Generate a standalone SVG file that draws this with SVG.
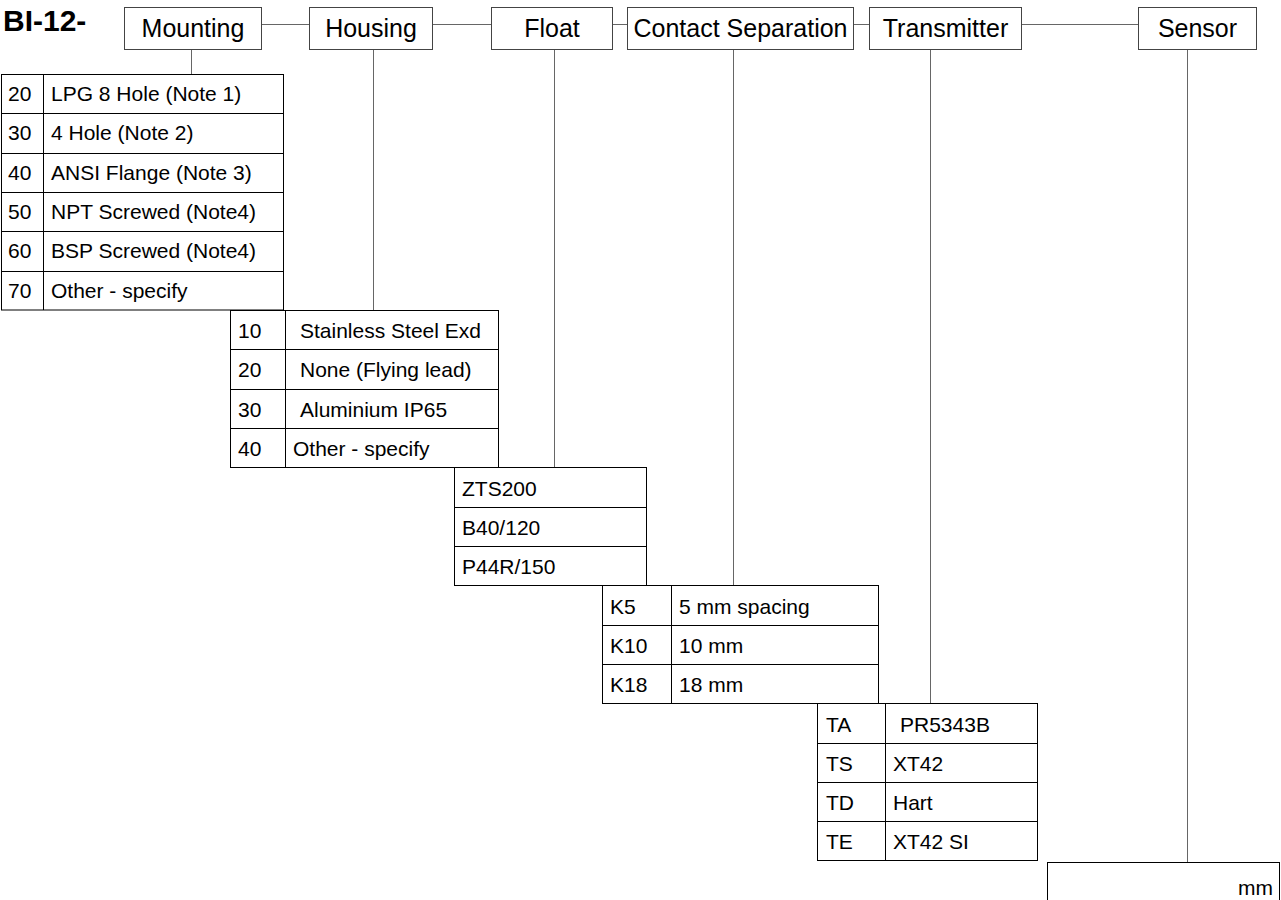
<svg xmlns="http://www.w3.org/2000/svg" width="1281" height="900" viewBox="0 0 1281 900">
<style>
.hb{fill:#fff;stroke:#444;stroke-width:1}
.ht{font-family:"Liberation Sans",Arial,sans-serif;font-size:25px;fill:#000;text-anchor:middle}
.tb{fill:#fff;stroke:#000;stroke-width:1}
.ln{stroke:#000;stroke-width:1;fill:none}
.t{font-family:"Liberation Sans",Arial,sans-serif;font-size:21px;fill:#000}
.cn{stroke:#666;stroke-width:1;fill:none}
.title{font-family:"Liberation Sans",Arial,sans-serif;font-size:30px;font-weight:bold;fill:#000}
</style>
<rect width="1281" height="900" fill="#fff"/>
<text class="title" x="3" y="31">BI-12-</text>
<g id="connectors">
<path class="cn" d="M261.5 24.5H309.5M432.5 24.5H491.5M612.5 24.5H627.5M853.5 24.5H869.5M1021.5 24.5H1138.5"/>
<path class="cn" d="M191.5 49.5V74M373.5 49.5V310M554.5 49.5V467M733.5 49.5V585M930.5 49.5V703M1187.5 49.5V862"/>
</g>
<g id="hdr-mounting"><rect class="hb" x="124.5" y="7.5" width="137" height="42"/><text class="ht" x="193" y="37">Mounting</text></g>
<g id="hdr-housing"><rect class="hb" x="309.5" y="7.5" width="123" height="42"/><text class="ht" x="371" y="37">Housing</text></g>
<g id="hdr-float"><rect class="hb" x="491.5" y="7.5" width="121" height="42"/><text class="ht" x="552" y="37">Float</text></g>
<g id="hdr-contact"><rect class="hb" x="627.5" y="7.5" width="226" height="42"/><text class="ht" x="740.5" y="37">Contact Separation</text></g>
<g id="hdr-transmitter"><rect class="hb" x="869.5" y="7.5" width="152" height="42"/><text class="ht" x="945.5" y="37">Transmitter</text></g>
<g id="hdr-sensor"><rect class="hb" x="1138.5" y="7.5" width="118" height="42"/><text class="ht" x="1197.5" y="37">Sensor</text></g>
<g id="tbl-mounting">
<rect class="tb" x="1.5" y="74.5" width="282" height="235.5"/>
<path class="ln" d="M43.5 74.5V310M1.5 113.5H283.5M1.5 153.5H283.5M1.5 192.5H283.5M1.5 231.5H283.5M1.5 271.5H283.5"/>
<text class="t" x="8" y="101">20</text><text class="t" x="51" y="101">LPG 8 Hole (Note 1)</text>
<text class="t" x="8" y="140">30</text><text class="t" x="51" y="140">4 Hole (Note 2)</text>
<text class="t" x="8" y="180">40</text><text class="t" x="51" y="180">ANSI Flange (Note 3)</text>
<text class="t" x="8" y="219">50</text><text class="t" x="51" y="219">NPT Screwed (Note4)</text>
<text class="t" x="8" y="258">60</text><text class="t" x="51" y="258">BSP Screwed (Note4)</text>
<text class="t" x="8" y="298">70</text><text class="t" x="51" y="298">Other - specify</text>
</g>
<g id="tbl-housing">
<rect class="tb" x="230.5" y="310.5" width="268" height="157"/>
<path class="ln" d="M285.5 310.5V467.5M230.5 349.5H498.5M230.5 389.5H498.5M230.5 428.5H498.5"/>
<text class="t" x="238" y="338">10</text><text class="t" x="300" y="338">Stainless Steel Exd</text>
<text class="t" x="238" y="377">20</text><text class="t" x="300" y="377">None (Flying lead)</text>
<text class="t" x="238" y="417">30</text><text class="t" x="300" y="417">Aluminium IP65</text>
<text class="t" x="238" y="456">40</text><text class="t" x="293" y="456">Other - specify</text>
</g>
<g id="tbl-float">
<rect class="tb" x="454.5" y="467.5" width="192" height="118"/>
<path class="ln" d="M454.5 507.5H646.5M454.5 546.5H646.5"/>
<text class="t" x="462" y="496">ZTS200</text>
<text class="t" x="462" y="535">B40/120</text>
<text class="t" x="462" y="574">P44R/150</text>
</g>
<g id="tbl-contact">
<rect class="tb" x="602.5" y="585.5" width="276" height="118"/>
<path class="ln" d="M671.5 585.5V703.5M602.5 625.5H878.5M602.5 664.5H878.5"/>
<text class="t" x="610" y="614">K5</text><text class="t" x="679" y="614">5 mm spacing</text>
<text class="t" x="610" y="653">K10</text><text class="t" x="679" y="653">10 mm</text>
<text class="t" x="610" y="692">K18</text><text class="t" x="679" y="692">18 mm</text>
</g>
<g id="tbl-transmitter">
<rect class="tb" x="817.5" y="703.5" width="220" height="157"/>
<path class="ln" d="M885.5 703.5V860.5M817.5 743.5H1037.5M817.5 782.5H1037.5M817.5 821.5H1037.5"/>
<text class="t" x="826" y="732">TA</text><text class="t" x="900" y="732">PR5343B</text>
<text class="t" x="826" y="771">TS</text><text class="t" x="893" y="771">XT42</text>
<text class="t" x="826" y="810">TD</text><text class="t" x="893" y="810">Hart</text>
<text class="t" x="826" y="849">TE</text><text class="t" x="893" y="849">XT42 SI</text>
</g>
<g id="box-sensor">
<rect class="tb" x="1047.5" y="862.5" width="232" height="60"/>
<text class="t" x="1273" y="895" text-anchor="end">mm</text>
</g>
</svg>
